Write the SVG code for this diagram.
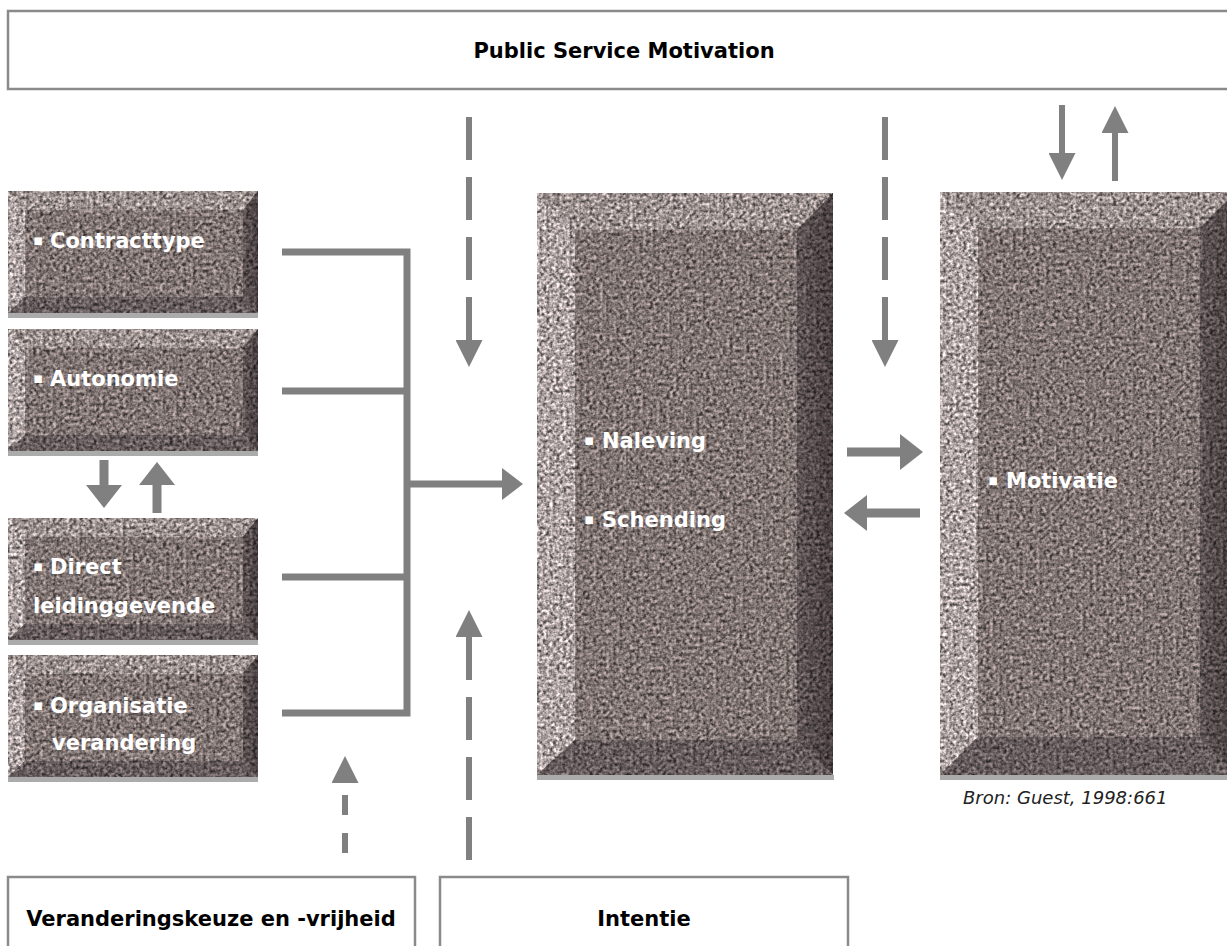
<svg xmlns="http://www.w3.org/2000/svg" width="1227" height="946" viewBox="0 0 1227 946">
  <style>
    .lbl { font-family: "DejaVu Sans", Verdana, sans-serif; font-weight: bold; font-size: 21px; fill: #ffffff; }
    .dot { font-size: 15px; }
    .ttl { font-family: "DejaVu Sans", Verdana, sans-serif; font-weight: bold; font-size: 21px; fill: #000000; text-anchor: middle; }
    .src { font-family: "DejaVu Sans", Verdana, sans-serif; font-style: italic; font-size: 18px; fill: #222222; }
    .frame { fill: #ffffff; stroke: #8a8a8a; stroke-width: 2.5; }
    .shadow { fill: #ababab; }
    .face { fill: #7f7472; }
    .bt { fill: #9a908e; }
    .bl { fill: #aba1a0; }
    .bb { fill: #655b5c; }
    .br { fill: url(#rightShade); }
    .tex { filter: url(#granite); }
    .wire { fill: none; stroke: #808080; }
  </style>
  <defs>
    <linearGradient id="rightShade" x1="0" y1="0" x2="1" y2="0">
      <stop offset="0" stop-color="#5e5455"/>
      <stop offset="1" stop-color="#483f40"/>
    </linearGradient>
    <!-- speckled stone texture laid over the bevelled blocks -->
    <filter id="granite" x="0" y="0" width="1" height="1" color-interpolation-filters="sRGB">
      <feTurbulence type="fractalNoise" baseFrequency="0.3" numOctaves="2" seed="11" result="noise"/>
      <feColorMatrix in="noise" type="matrix" values="1.15 1.15 0 0 -0.65  1.15 1.15 0 0 -0.65  1.15 1.15 0 0 -0.65  0 0 0 0 1" result="gray"/>
      <feComposite in="SourceGraphic" in2="gray" operator="arithmetic" k1="1.15" k2="0.43" k3="0" k4="0" result="stone"/>
      <feComposite in="stone" in2="SourceAlpha" operator="in"/>
    </filter>
    <marker id="headS" markerUnits="userSpaceOnUse" markerWidth="27" markerHeight="27" refX="0" refY="13.5" orient="auto">
      <path d="M0,0 L27,13.5 L0,27 Z" fill="#808080"/>
    </marker>
    <marker id="headM" markerUnits="userSpaceOnUse" markerWidth="21" markerHeight="32" refX="0" refY="16" orient="auto">
      <path d="M0,0 L21,16 L0,32 Z" fill="#808080"/>
    </marker>
    <marker id="headL" markerUnits="userSpaceOnUse" markerWidth="23" markerHeight="36" refX="0" refY="18" orient="auto">
      <path d="M0,0 L23,18 L0,36 Z" fill="#808080"/>
    </marker>
  </defs>

  <rect width="1227" height="946" fill="#ffffff"/>

  <!-- title bar -->
  <g id="psm">
    <rect class="frame" x="8" y="11" width="1240" height="78"/>
    <text class="ttl" x="624" y="58">Public Service Motivation</text>
  </g>

  <!-- left column blocks -->
  <g id="contracttype">
    <rect class="shadow" x="8" y="313" width="250" height="5"/>
    <g class="tex">
      <rect class="face" x="8" y="191" width="250" height="122"/>
      <polygon class="bt" points="8,191 258,191 243,210 25,210"/>
      <polygon class="bl" points="8,191 25,210 25,297 8,313"/>
      <polygon class="br" points="258,191 258,313 243,297 243,210"/>
      <polygon class="bb" points="8,313 25,297 243,297 258,313"/>
    </g>
    <text class="lbl" y="248"><tspan class="dot" x="33" dy="-3">▪</tspan><tspan x="50" dy="3">Contracttype</tspan></text>
  </g>

  <g id="autonomie">
    <rect class="shadow" x="8" y="451" width="250" height="5"/>
    <g class="tex">
      <rect class="face" x="8" y="329" width="250" height="122"/>
      <polygon class="bt" points="8,329 258,329 243,348 25,348"/>
      <polygon class="bl" points="8,329 25,348 25,435 8,451"/>
      <polygon class="br" points="258,329 258,451 243,435 243,348"/>
      <polygon class="bb" points="8,451 25,435 243,435 258,451"/>
    </g>
    <text class="lbl" y="386"><tspan class="dot" x="33" dy="-3">▪</tspan><tspan x="50" dy="3">Autonomie</tspan></text>
  </g>

  <g id="leidinggevende">
    <rect class="shadow" x="8" y="640" width="250" height="5"/>
    <g class="tex">
      <rect class="face" x="8" y="518" width="250" height="122"/>
      <polygon class="bt" points="8,518 258,518 243,537 25,537"/>
      <polygon class="bl" points="8,518 25,537 25,624 8,640"/>
      <polygon class="br" points="258,518 258,640 243,624 243,537"/>
      <polygon class="bb" points="8,640 25,624 243,624 258,640"/>
    </g>
    <text class="lbl" y="574"><tspan class="dot" x="33" dy="-3">▪</tspan><tspan x="50" dy="3">Direct</tspan></text>
    <text class="lbl" x="33" y="613">leidinggevende</text>
  </g>

  <g id="organisatie">
    <rect class="shadow" x="8" y="777" width="250" height="5"/>
    <g class="tex">
      <rect class="face" x="8" y="655" width="250" height="122"/>
      <polygon class="bt" points="8,655 258,655 243,674 25,674"/>
      <polygon class="bl" points="8,655 25,674 25,761 8,777"/>
      <polygon class="br" points="258,655 258,777 243,761 243,674"/>
      <polygon class="bb" points="8,777 25,761 243,761 258,777"/>
    </g>
    <text class="lbl" y="713"><tspan class="dot" x="33" dy="-3">▪</tspan><tspan x="50" dy="3">Organisatie</tspan></text>
    <text class="lbl" x="52" y="750">verandering</text>
  </g>

  <!-- centre block -->
  <g id="naleving">
    <rect class="shadow" x="537" y="775" width="297" height="5"/>
    <g class="tex">
      <rect class="face" x="537" y="193" width="296" height="582"/>
      <polygon class="bt" points="537,193 833,193 797,230 575,230"/>
      <polygon class="bl" points="537,193 575,230 575,740 537,775"/>
      <polygon class="br" points="833,193 833,775 797,740 797,230"/>
      <polygon class="bb" points="537,775 575,740 797,740 833,775"/>
    </g>
    <text class="lbl" y="448"><tspan class="dot" x="584" dy="-3">▪</tspan><tspan x="602" dy="3">Naleving</tspan></text>
    <text class="lbl" y="527"><tspan class="dot" x="584" dy="-3">▪</tspan><tspan x="602" dy="3">Schending</tspan></text>
  </g>

  <!-- right block -->
  <g id="motivatie">
    <rect class="shadow" x="940" y="775" width="297" height="5"/>
    <g class="tex">
      <rect class="face" x="940" y="192" width="296" height="583"/>
      <polygon class="bt" points="940,192 1236,192 1200,228 978,228"/>
      <polygon class="bl" points="940,192 978,228 978,737 940,775"/>
      <polygon class="br" points="1236,192 1236,775 1200,737 1200,228"/>
      <polygon class="bb" points="940,775 978,737 1200,737 1236,775"/>
    </g>
    <text class="lbl" y="488"><tspan class="dot" x="988" dy="-3">▪</tspan><tspan x="1006" dy="3">Motivatie</tspan></text>
  </g>

  <text id="bron" class="src" x="963" y="804">Bron: Guest, 1998:661</text>

  <!-- bottom boxes -->
  <g id="keuze">
    <rect class="frame" x="8" y="877" width="407" height="90"/>
    <text class="ttl" x="211" y="926">Veranderingskeuze en -vrijheid</text>
  </g>
  <g id="intentie">
    <rect class="frame" x="440" y="877" width="408" height="90"/>
    <text class="ttl" x="644" y="926">Intentie</text>
  </g>

  <!-- connectors -->
  <g id="connectors">
    <!-- bracket joining the four left blocks -->
    <path class="wire" stroke-width="7" d="M282,252 H407 M282,391 H407 M282,577 H407 M282,713 H407 M407,248.5 V716.5"/>
    <path class="wire" stroke-width="7" d="M407,484 H502" marker-end="url(#headM)"/>

    <!-- dashed influences -->
    <path class="wire" stroke-width="6" stroke-dasharray="43 17" d="M469,117 V340" marker-end="url(#headS)"/>
    <path class="wire" stroke-width="6" stroke-dasharray="43 17" d="M885,117 V340" marker-end="url(#headS)"/>
    <path class="wire" stroke-width="6" stroke-dasharray="43 17" d="M469,860 V637" marker-end="url(#headS)"/>
    <path class="wire" stroke-width="6" stroke-dasharray="20 18" d="M345,853 V783" marker-end="url(#headS)"/>

    <!-- PSM and motivation -->
    <path class="wire" stroke-width="6" d="M1062,105 V153" marker-end="url(#headS)"/>
    <path class="wire" stroke-width="6" d="M1115,181 V133" marker-end="url(#headS)"/>

    <!-- autonomie and leidinggevende -->
    <path class="wire" stroke-width="9" d="M104,460 V485" marker-end="url(#headL)"/>
    <path class="wire" stroke-width="9" d="M157,513 V485" marker-end="url(#headL)"/>

    <!-- centre block and motivatie -->
    <path class="wire" stroke-width="9" d="M847,452 H900" marker-end="url(#headL)"/>
    <path class="wire" stroke-width="9" d="M920,513 H867" marker-end="url(#headL)"/>
  </g>
</svg>
